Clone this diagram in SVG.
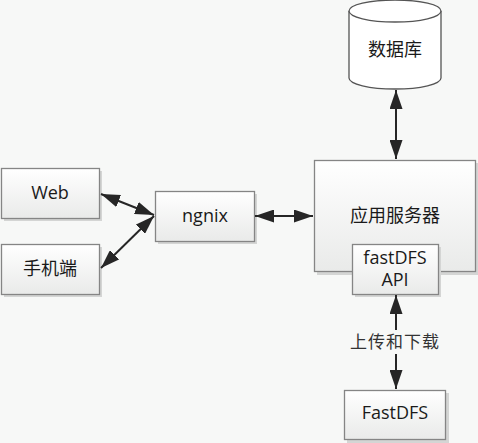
<svg xmlns="http://www.w3.org/2000/svg" width="478" height="443" viewBox="0 0 478 443">
<defs>
<linearGradient id="g" x1="0" y1="0" x2="0" y2="1">
<stop offset="0" stop-color="#ffffff"/>
<stop offset="1" stop-color="#e9eae9"/>
</linearGradient>
<marker id="ah" viewBox="0 0 19 13" refX="19" refY="6.5" markerWidth="19" markerHeight="13" markerUnits="userSpaceOnUse" orient="auto-start-reverse">
<path d="M0,0 L19,6.5 L0,13 Z" fill="#262626"/>
</marker>
</defs>
<style>
.box{fill:url(#g);stroke:#858585;stroke-width:1.3}
.sh{fill:#d4d5d4}
.t{font-family:"Open Sans","Noto Sans CJK SC",sans-serif;font-size:18px;fill:#1a1a1a;text-anchor:middle}
.lbl{font-family:"Liberation Serif","Noto Sans CJK SC",serif;font-size:17px;fill:#333;text-anchor:middle;letter-spacing:1px}
.c{stroke:#262626;stroke-width:2;fill:none;marker-start:url(#ah);marker-end:url(#ah)}
</style>
<rect width="478" height="443" fill="#f7f8f7"/>

<g id="db">
<path d="M349,11 V78 A46,11 0 0 0 441,78 V11" fill="#ffffff" stroke="#555" stroke-width="1.3"/>
<ellipse cx="395" cy="11" rx="46" ry="11" fill="#ffffff" stroke="#555" stroke-width="1.3"/>
<text class="t" x="395" y="56">数据库</text>
</g>

<g id="web">
<rect class="sh" x="4" y="171" width="98" height="50"/>
<rect class="box" x="1.5" y="168.5" width="98" height="50"/>
<text class="t" x="50" y="199">Web</text>
</g>

<g id="mobile">
<rect class="sh" x="4" y="247" width="98" height="50"/>
<rect class="box" x="1.5" y="244.5" width="98" height="50"/>
<text class="t" x="50" y="275">手机端</text>
</g>

<g id="ngnix">
<rect class="sh" x="158" y="194" width="99" height="50"/>
<rect class="box" x="155.5" y="191.5" width="99" height="50"/>
<text class="t" x="205" y="222">ngnix</text>
</g>

<g id="app">
<rect class="sh" x="317" y="163" width="162" height="112"/>
<rect class="box" x="314.5" y="160.5" width="161" height="111"/>
<text class="t" x="395" y="222">应用服务器</text>
</g>

<g id="api">
<rect class="sh" x="355" y="247" width="86" height="50"/>
<rect class="box" x="352.5" y="244.5" width="86" height="50"/>
<text class="t" x="395" y="264">fastDFS</text>
<text class="t" x="395" y="286">API</text>
</g>

<g id="fastdfs">
<rect class="sh" x="347" y="393" width="102" height="50"/>
<rect class="box" x="344.5" y="390.5" width="101" height="49"/>
<text class="t" x="395" y="419">FastDFS</text>
</g>

<g id="connectors">
<line class="c" x1="101" y1="194" x2="154" y2="215"/>
<line class="c" x1="101" y1="268" x2="154" y2="216"/>
<line class="c" x1="255" y1="216" x2="313" y2="216"/>
<line class="c" x1="396" y1="90" x2="396" y2="159"/>
<line class="c" x1="396" y1="295" x2="396" y2="389"/>
<rect x="350" y="330" width="92" height="24" fill="#f7f8f7"/>
<text class="lbl" x="395" y="348">上传和下载</text>
</g>
</svg>
